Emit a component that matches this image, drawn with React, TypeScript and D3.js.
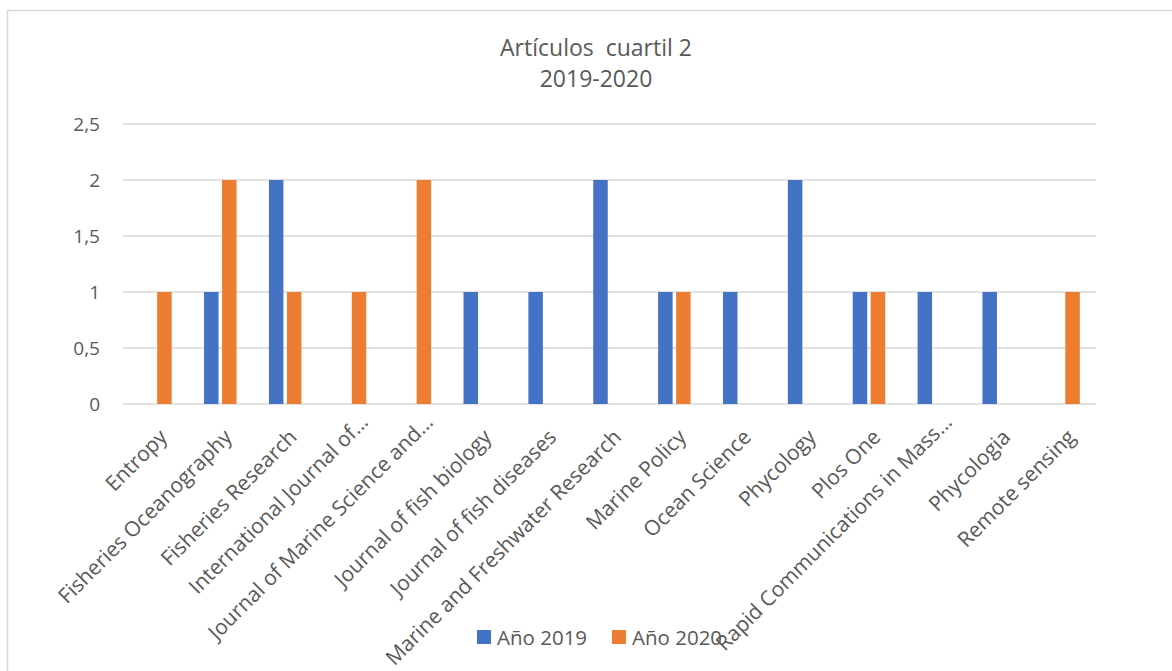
import React from "react";
import * as d3 from "d3";

const categories = [
  "Entropy",
  "Fisheries Oceanography",
  "Fisheries Research",
  "International Journal of…",
  "Journal of Marine Science and…",
  "Journal of fish biology",
  "Journal of fish diseases",
  "Marine and Freshwater Research",
  "Marine Policy",
  "Ocean Science",
  "Phycology",
  "Plos One",
  "Rapid Communications in Mass…",
  "Phycologia",
  "Remote sensing",
];
const values2019 = [0, 1, 2, 0, 0, 1, 1, 2, 1, 1, 2, 1, 1, 1, 0];
const values2020 = [1, 2, 1, 1, 2, 0, 0, 0, 1, 0, 0, 1, 0, 0, 1];
const yTicks = [0, 0.5, 1, 1.5, 2, 2.5];
const seriesNames = ["Año 2019", "Año 2020"];
const titleLines = ["Artículos  cuartil 2", "2019-2020"];

const W = 1172;
const H = 671;
const FONT = "'Open Sans', 'Noto Sans', sans-serif";
const BLUE = "#4472C4";
const ORANGE = "#ED7D31";
const TEXT = "#595959";
const GRID = "#d9d9d9";

export default function App() {
  const x = d3.scaleBand<string>().domain(categories).range([123, 1096]).padding(0);
  const y = d3.scaleLinear().domain([0, 2.5]).range([404, 124]);
  const barW = 14.5;
  const gap = 3.5;
  const fmt = (v: number) => String(v).replace(".", ",");

  return (
    <svg
      width={W}
      height={H}
      style={{ position: "absolute", left: 0, top: 0, background: "#fff" }}
      fontFamily={FONT}
    >
      <rect x={0} y={0} width={W} height={H} fill="#fff" />
      <path d={`M7.5,${H + 5} V10.5 H${W + 5}`} fill="none" stroke={GRID} strokeWidth={1.5} />

      {titleLines.map((t, i) => (
        <text
          key={i}
          x={596}
          y={56 + i * 31}
          textAnchor="middle"
          fontSize={23}
          fill={TEXT}
          style={{ whiteSpace: "pre" }}
        >
          {t}
        </text>
      ))}

      {yTicks.map((t) => (
        <g key={t}>
          <line x1={123} x2={1096} y1={y(t)} y2={y(t)} stroke={GRID} strokeWidth={1.5} />
          <text x={100} y={y(t)} dy="0.35em" textAnchor="end" fontSize={19} fill={TEXT}>
            {fmt(t)}
          </text>
        </g>
      ))}

      {categories.map((c, i) => {
        const cx = (x(c) as number) + x.bandwidth() / 2;
        return (
          <g key={c}>
            {values2019[i] > 0 && (
              <rect
                x={cx - gap / 2 - barW}
                y={y(values2019[i])}
                width={barW}
                height={y(0) - y(values2019[i])}
                fill={BLUE}
              />
            )}
            {values2020[i] > 0 && (
              <rect
                x={cx + gap / 2}
                y={y(values2020[i])}
                width={barW}
                height={y(0) - y(values2020[i])}
                fill={ORANGE}
              />
            )}
          </g>
        );
      })}

      {categories.map((c) => {
        const cx = (x(c) as number) + x.bandwidth() / 2;
        const trunc = c.endsWith("…");
        return (
          <text
            key={c}
            transform={`translate(${cx + 13},${438.4}) rotate(-45)`}
            textAnchor="end"
            dx={trunc ? 15 : 0}
            dy={trunc ? -6 : 0}
            fontSize={21}
            fill={TEXT}
          >
            {c}
          </text>
        );
      })}

      <g>
        <rect x={477} y={630} width={14} height={14} fill={BLUE} />
        <text x={497} y={645} fontSize={20.5} fill={TEXT}>{seriesNames[0]}</text>
        <rect x={612} y={630} width={14} height={14} fill={ORANGE} />
        <text x={632} y={645} fontSize={20.5} fill={TEXT}>{seriesNames[1]}</text>
      </g>
    </svg>
  );
}
